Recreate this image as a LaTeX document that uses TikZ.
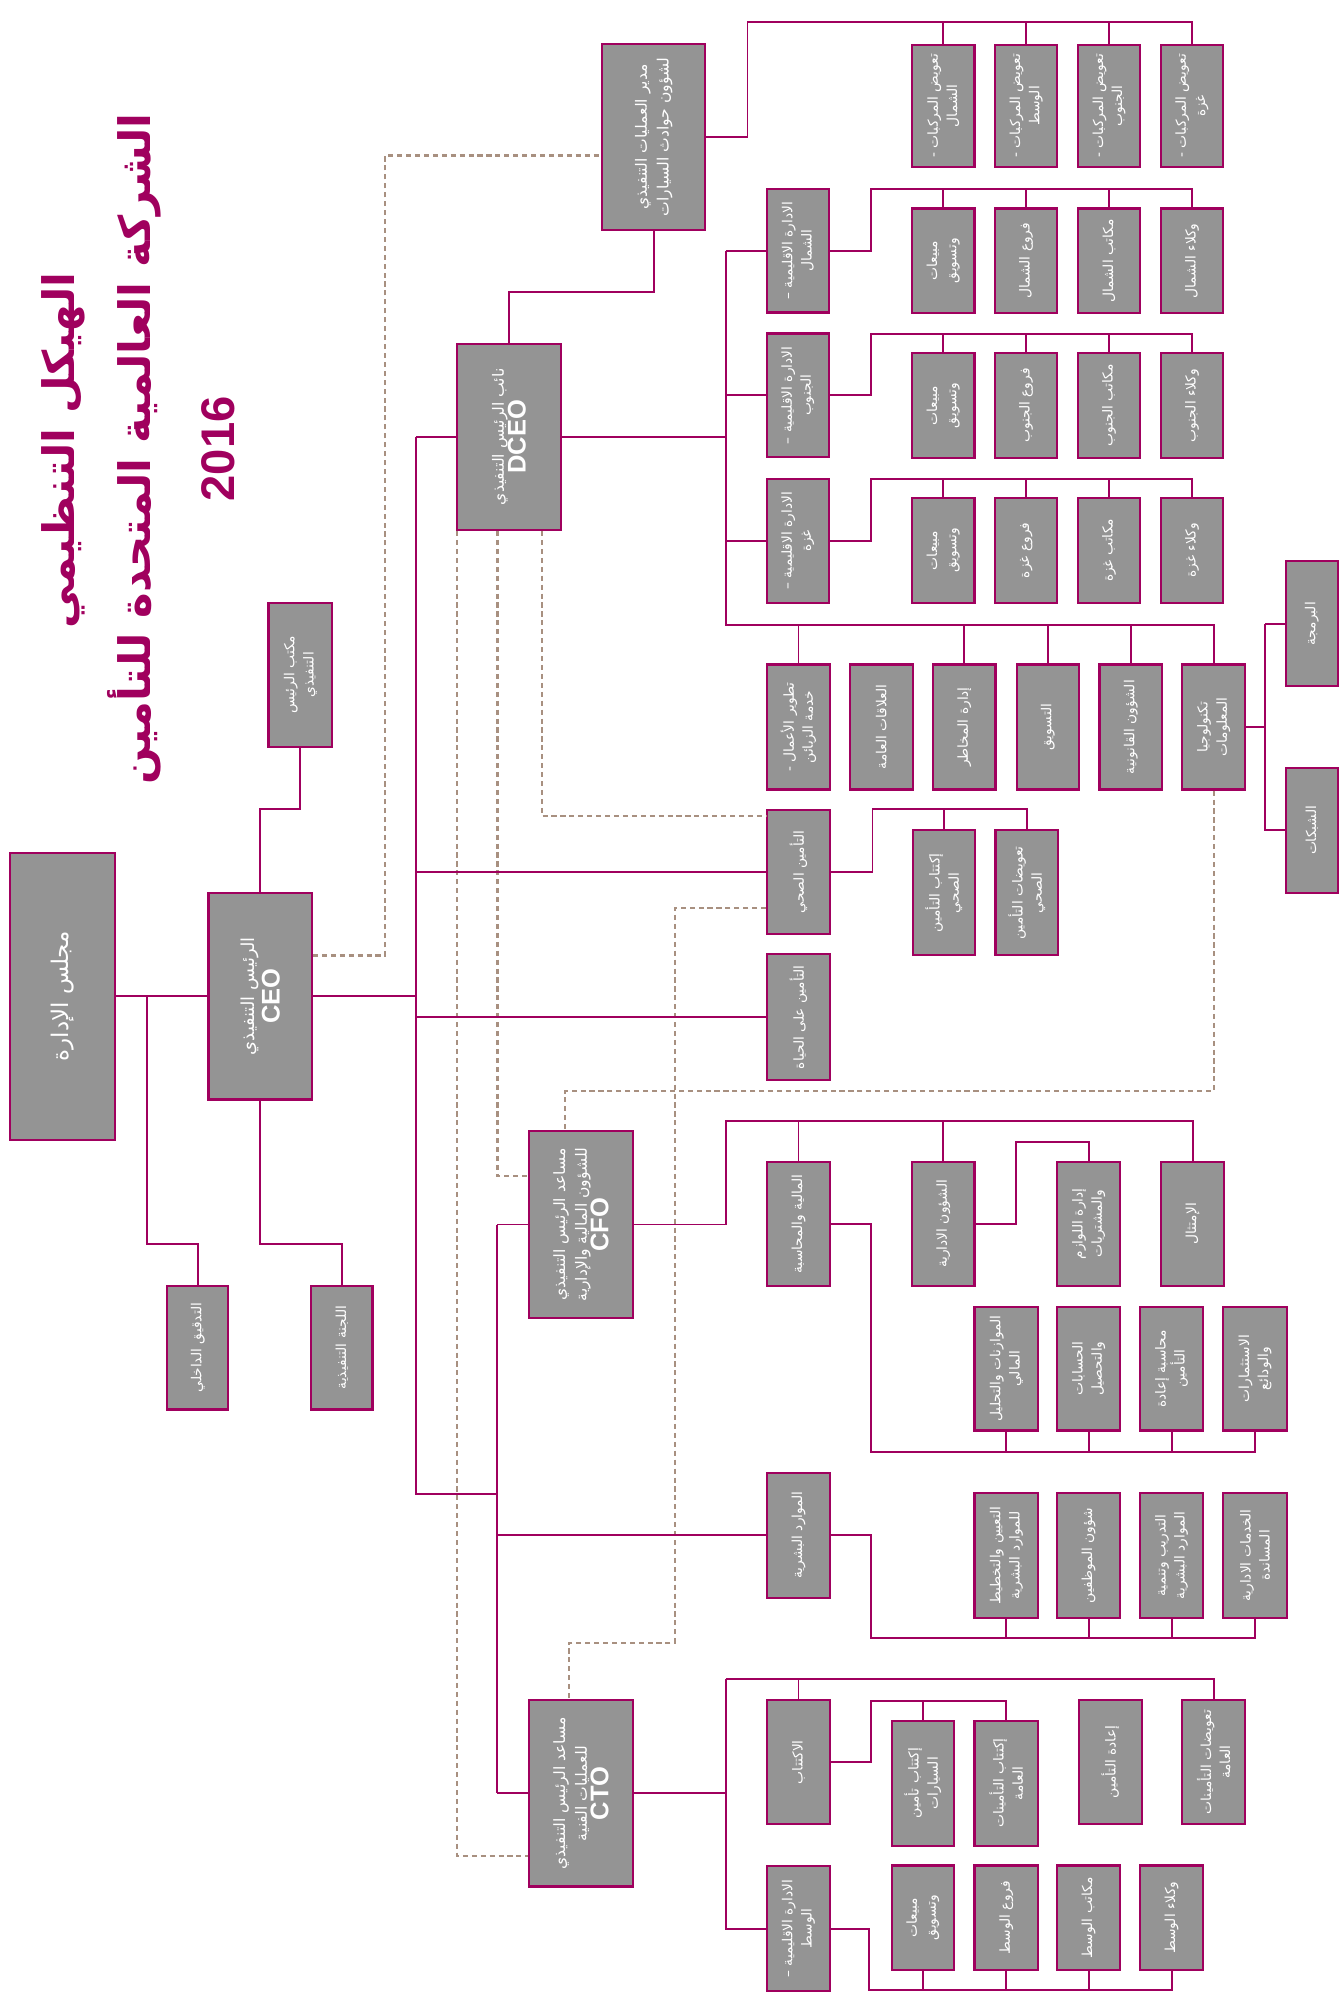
\documentclass[tikz,border=0pt]{standalone}
\usepackage{fontspec}
\setmainfont{Liberation Sans}
\newfontfamily\arabicfont[Script=Arabic]{DejaVu Sans}
\TeXXeTstate=1
\newcommand\ar[1]{\beginR #1\endR}
\newcommand\lat[1]{{\rmfamily\bfseries\fontsize{20}{22}\selectfont #1}}
\definecolor{plum}{HTML}{A0005E}
\definecolor{boxgray}{HTML}{949494}
\definecolor{dashtan}{HTML}{A89080}
\tikzset{
  box/.style={draw=plum, line width=1.7pt, fill=boxgray, text=white, rotate=90,
    align=center, inner sep=0.5pt, font=\arabicfont\fontsize{10.8}{15}\selectfont},
  dept/.style={box, minimum width=97pt, minimum height=49pt},
  deptlow/.style={box, minimum width=82pt, minimum height=49pt},
  head/.style={box, minimum width=146pt, minimum height=81pt,
    font=\arabicfont\fontsize{12.2}{17}\selectfont},
  heading/.style={rotate=90, text=plum, inner sep=0pt},
  link/.style={draw=plum, line width=1.5pt},
  dashline/.style={draw=dashtan, line width=1.8pt, dash pattern=on 4pt off 3pt},
}
\begin{document}
\begin{tikzpicture}[x=1pt, y=-1pt]
  \useasboundingbox (0,0) rectangle (1049.8,1568);
  % title
  \node[heading, font=\arabicfont\bfseries\fontsize{34}{36}\selectfont] (title1) at (50,353) {\ar{الهيكل التنظيمي}};
  \node[heading, font=\arabicfont\bfseries\fontsize{34}{36}\selectfont] (title2) at (105,352) {\ar{الشركة العالمية المتحدة للتأمين}};
  \node[heading, font=\bfseries\fontsize{37}{38}\selectfont] (year) at (171,352) {2016};
  % top of the chart
  \node[box, minimum width=225pt, minimum height=82pt, font=\arabicfont\fontsize{18}{20}\selectfont] (board) at (49,781) {\ar{مجلس الإدارة}};
  \node[box, minimum width=162pt, minimum height=81pt, font=\arabicfont\fontsize{14}{20}\selectfont] (ceo) at (204,781) {\ar{الرئيس التنفيذي}\\\lat{CEO}};
  \node[box, minimum width=113pt, minimum height=50pt] (ceooffice) at (235.5,529) {\ar{مكتب الرئيس}\\\ar{التنفيذي}};
  \node[dept, minimum height=48pt] (audit) at (155,1056.5) {\ar{التدقيق الداخلي}};
  \node[dept, minimum height=48pt] (execcom) at (268,1056.5) {\ar{اللجنة التنفيذية}};
  \node[head] (dceo) at (399,342.5) {\ar{نائب الرئيس التنفيذي}\\\lat{DCEO}};
  \node[head] (autoops) at (512.5,107.5) {\ar{مدير العمليات التنفيذي}\\\ar{لشؤون حوادث السيارات}};
  \node[head] (cfo) at (455.5,960) {\ar{مساعد الرئيس التنفيذي}\\\ar{للشؤون المالية والإدارية}\\\lat{CFO}};
  \node[head] (cto) at (455.5,1406) {\ar{مساعد الرئيس التنفيذي}\\\ar{للعمليات الفنية}\\\lat{CTO}};
  % vehicle claims
  \node[dept, minimum width=96pt] (claimN) at (739.5,83) {\ar{تعويض المركبات -}\\\ar{الشمال}};
  \node[dept, minimum width=96pt] (claimC) at (804.5,83) {\ar{تعويض المركبات -}\\\ar{الوسط}};
  \node[dept, minimum width=96pt] (claimS) at (869.5,83) {\ar{تعويض المركبات -}\\\ar{الجنوب}};
  \node[dept, minimum width=96pt] (claimG) at (934.5,83) {\ar{تعويض المركبات -}\\\ar{غزة}};
  % regions
  \node[dept] (regN) at (625.5,196.5) {\ar{الادارة الاقليمية –}\\\ar{الشمال}};
  \node[deptlow] (salesN) at (739.5,204.5) {\ar{مبيعات}\\\ar{وتسويق}};
  \node[deptlow] (branchN) at (804.5,204.5) {\ar{فروع الشمال}};
  \node[deptlow] (officeN) at (869.5,204.5) {\ar{مكاتب الشمال}};
  \node[deptlow] (agentN) at (934.5,204.5) {\ar{وكلاء الشمال}};
  \node[dept] (regS) at (625.5,310) {\ar{الادارة الاقليمية –}\\\ar{الجنوب}};
  \node[deptlow] (salesS) at (739.5,318) {\ar{مبيعات}\\\ar{وتسويق}};
  \node[deptlow] (branchS) at (804.5,318) {\ar{فروع الجنوب}};
  \node[deptlow] (officeS) at (869.5,318) {\ar{مكاتب الجنوب}};
  \node[deptlow] (agentS) at (934.5,318) {\ar{وكلاء الجنوب}};
  \node[dept] (regG) at (625.5,424) {\ar{الادارة الاقليمية –}\\\ar{غزة}};
  \node[deptlow] (salesG) at (739.5,431.5) {\ar{مبيعات}\\\ar{وتسويق}};
  \node[deptlow] (branchG) at (804.5,431.5) {\ar{فروع غزة}};
  \node[deptlow] (officeG) at (869.5,431.5) {\ar{مكاتب غزة}};
  \node[deptlow] (agentG) at (934.5,431.5) {\ar{وكلاء غزة}};
  % departments under the deputy
  \node[dept, minimum width=98pt] (bizdev) at (626,570) {\ar{تطوير الأعمال -}\\\ar{خدمة الزبائن}};
  \node[dept, minimum width=98pt] (pr) at (691,570) {\ar{العلاقات العامة}};
  \node[dept, minimum width=98pt] (risk) at (756,570) {\ar{إدارة المخاطر}};
  \node[dept, minimum width=98pt] (marketing) at (821.5,570) {\ar{التسويق}};
  \node[dept, minimum width=98pt] (legal) at (886.5,570) {\ar{الشؤون القانونية}};
  \node[dept, minimum width=98pt] (it) at (951.5,570) {\ar{تكنولوجيا}\\\ar{المعلومات}};
  \node[dept, minimum width=98pt, minimum height=41pt] (prog) at (1028.5,489) {\ar{البرمجة}};
  \node[dept, minimum width=98pt, minimum height=41pt] (net) at (1028.5,651) {\ar{الشبكات}};
  % insurance lines
  \node[dept] (health) at (626,683.5) {\ar{التأمين الصحي}};
  \node[dept, minimum width=98pt] (healthuw) at (740,700) {\ar{إكتتاب التأمين}\\\ar{الصحي}};
  \node[dept, minimum width=98pt] (healthcl) at (805,700) {\ar{تعويضات التأمين}\\\ar{الصحي}};
  \node[dept, minimum width=99pt] (life) at (626,797.5) {\ar{التأمين على الحياة}};
  % finance and administration
  \node[dept] (finance) at (626,959.5) {\ar{المالية والمحاسبة}};
  \node[dept] (admin) at (739.5,959.5) {\ar{الشؤون الادارية}};
  \node[dept] (supplies) at (853.5,959.5) {\ar{إدارة اللوازم}\\\ar{والمشتريات}};
  \node[dept] (compliance) at (935,959.5) {\ar{الإمتثال}};
  \node[dept, minimum height=50pt] (budget) at (789,1073) {\ar{الموازنات والتحليل}\\\ar{المالي}};
  \node[dept] (accounts) at (853.5,1073) {\ar{الحسابات}\\\ar{والتحصيل}};
  \node[dept] (reacc) at (918.5,1073) {\ar{محاسبة إعادة}\\\ar{التأمين}};
  \node[dept, minimum height=50pt] (invest) at (984,1073) {\ar{الاستثمارات}\\\ar{والودائع}};
  \node[dept, minimum width=98pt] (hr) at (626,1203.5) {\ar{الموارد البشرية}};
  \node[dept, minimum width=98pt, minimum height=50pt] (hiring) at (789,1219.5) {\ar{التعيين والتخطيط}\\\ar{للموارد البشرية}};
  \node[dept, minimum width=98pt] (staff) at (853.5,1219.5) {\ar{شؤون الموظفين}};
  \node[dept, minimum width=98pt] (training) at (918.5,1219.5) {\ar{التدريب وتنمية}\\\ar{الموارد البشرية}};
  \node[dept, minimum width=98pt, minimum height=50pt] (support) at (984,1219.5) {\ar{الخدمات الادارية}\\\ar{المساندة}};
  % technical operations
  \node[dept] (uw) at (626,1381.5) {\ar{الاكتتاب}};
  \node[dept, minimum width=98pt] (motoruw) at (723.5,1398) {\ar{إكتتاب تأمين}\\\ar{السيارات}};
  \node[dept, minimum width=98pt, minimum height=50pt] (genuw) at (789,1398) {\ar{إكتتاب التأمينات}\\\ar{العامة}};
  \node[dept] (reins) at (870.5,1381.5) {\ar{إعادة التأمين}};
  \node[dept] (genclaims) at (951.5,1381.5) {\ar{تعويضات التأمينات}\\\ar{العامة}};
  \node[dept, minimum width=98pt] (regC) at (626,1512) {\ar{الادارة الاقليمية –}\\\ar{الوسط}};
  \node[deptlow] (salesC) at (723.5,1503.5) {\ar{مبيعات}\\\ar{وتسويق}};
  \node[deptlow, minimum height=50pt] (branchC) at (789,1503.5) {\ar{فروع الوسط}};
  \node[deptlow] (officeC) at (853.5,1503.5) {\ar{مكاتب الوسط}};
  \node[deptlow] (agentC) at (918.5,1503.5) {\ar{وكلاء الوسط}};
  % junctions
  \coordinate (boardj) at (115.5,781);
  \coordinate (execj) at (204,975);
  \coordinate (officej) at (204,634);
  \coordinate (spinetop) at (326,342.5);
  \coordinate (spinebot) at (326,1171);
  \coordinate (cfotop) at (390,960);
  \coordinate (ctobot) at (390,1406);
  \coordinate (opsj) at (512.5,229);
  \coordinate (claimj) at (586,17.5);
  \coordinate (dbustop) at (569,196.5);
  \coordinate (dbusbot) at (569,490);
  \coordinate (nj) at (683,148);
  \coordinate (sj) at (683,261.5);
  \coordinate (gj) at (683,375.5);
  \coordinate (itj) at (992,489);
  \coordinate (healthj) at (684,634.5);
  \coordinate (cfoj) at (569,879);
  \coordinate (supj) at (796.5,895);
  \coordinate (finj) at (682.5,1138);
  \coordinate (hrj) at (682.5,1284);
  \coordinate (ctoup) at (569,1316.5);
  \coordinate (uwj) at (682.5,1333.5);
  \coordinate (cj) at (681,1560);
  % dotted reporting lines
  \coordinate (ceoops) at (302,749);
  \coordinate (opsin) at (302,122);
  \coordinate (dh) at (425,640);
  \coordinate (dc) at (390,922);
  \coordinate (dt) at (358.5,1455);
  \coordinate (itdown) at (951.5,855.5);
  \coordinate (itleft) at (443,855.5);
  \coordinate (hdown) at (529,712);
  \coordinate (hbot) at (529,1288);
  \coordinate (hleft) at (446,1288);
  \begin{scope}[dashline]
    \draw (ceo.south |- ceoops) -- (ceoops) -- (opsin) -- (opsin -| autoops.north);
    \draw (dceo.west -| dh) -- (dh) -- (dh -| health.north);
    \draw (dceo.west -| dc) -- (dc) -- (dc -| cfo.north);
    \draw (dceo.west -| dt) -- (dt) -- (dt -| cto.north);
    \draw (it.west -| itdown) -- (itdown) -- (itleft) -- (itleft |- cfo.east);
    \draw (health.north |- hdown) -- (hdown) -- (hbot) -- (hleft) -- (hleft |- cto.east);
  \end{scope}
  \begin{scope}[link]
    \draw (board) -- (ceo);
    \draw (boardj) -- (boardj |- execj) -| (audit);
    \draw (ceo) -- (execj) -| (execcom);
    \draw (ceo) -- (officej) -| (ceooffice);
    \draw (ceo) -- (ceo -| spinetop);
    \draw (spinetop) -- (spinebot) -- (spinebot -| cfotop);
    \draw (spinetop) -- (dceo);
    \draw (spinetop |- health) -- (health);
    \draw (spinetop |- life) -- (life);
    \draw (cfotop) -- (ctobot);
    \draw (cfotop) -- (cfo);
    \draw (ctobot) -- (cto);
    \draw (cfotop |- hr) -- (hr);
    % deputy
    \draw (dceo) |- (opsj) -- (autoops);
    \draw (autoops) -| (claimj) -| (claimG);
    \draw (claimN |- claimj) -- (claimN);
    \draw (claimC |- claimj) -- (claimC);
    \draw (claimS |- claimj) -- (claimS);
    \draw (dceo) -- (dceo -| dbustop);
    \draw (dbustop) -- (dbusbot) -| (it);
    \draw (dbustop) -- (regN);
    \draw (dbustop |- regS) -- (regS);
    \draw (dbustop |- regG) -- (regG);
    \draw (bizdev |- dbusbot) -- (bizdev);
    \draw (risk |- dbusbot) -- (risk);
    \draw (marketing |- dbusbot) -- (marketing);
    \draw (legal |- dbusbot) -- (legal);
    \draw (it) -- (it -| itj);
    \draw (itj) -- (prog);
    \draw (itj) -- (itj |- net) -- (net);
    \draw (regN) -| (nj) -| (agentN);
    \draw (salesN |- nj) -- (salesN);
    \draw (branchN |- nj) -- (branchN);
    \draw (officeN |- nj) -- (officeN);
    \draw (regS) -| (sj) -| (agentS);
    \draw (salesS |- sj) -- (salesS);
    \draw (branchS |- sj) -- (branchS);
    \draw (officeS |- sj) -- (officeS);
    \draw (regG) -| (gj) -| (agentG);
    \draw (salesG |- gj) -- (salesG);
    \draw (branchG |- gj) -- (branchG);
    \draw (officeG |- gj) -- (officeG);
    \draw (health) -| (healthj) -| (healthcl);
    \draw (healthuw |- healthj) -- (healthuw);
    % finance
    \draw (cfo) -| (cfoj) -| (compliance);
    \draw (finance |- cfoj) -- (finance);
    \draw (admin |- cfoj) -- (admin);
    \draw (admin) -| (supj) -| (supplies);
    \draw (finance) -| (finj) -| (invest);
    \draw (budget |- finj) -- (budget);
    \draw (accounts |- finj) -- (accounts);
    \draw (reacc |- finj) -- (reacc);
    \draw (hr) -| (hrj) -| (support);
    \draw (hiring |- hrj) -- (hiring);
    \draw (staff |- hrj) -- (staff);
    \draw (training |- hrj) -- (training);
    % technical
    \draw (cto) -- (cto -| ctoup);
    \draw (ctoup) -- (ctoup |- regC) -- (regC);
    \draw (ctoup) -| (genclaims);
    \draw (uw |- ctoup) -- (uw);
    \draw (uw) -| (uwj) -| (genuw);
    \draw (motoruw |- uwj) -- (motoruw);
    \draw (regC) -| (cj) -| (agentC);
    \draw (salesC |- cj) -- (salesC);
    \draw (branchC |- cj) -- (branchC);
    \draw (officeC |- cj) -- (officeC);
  \end{scope}
\end{tikzpicture}
\end{document}
